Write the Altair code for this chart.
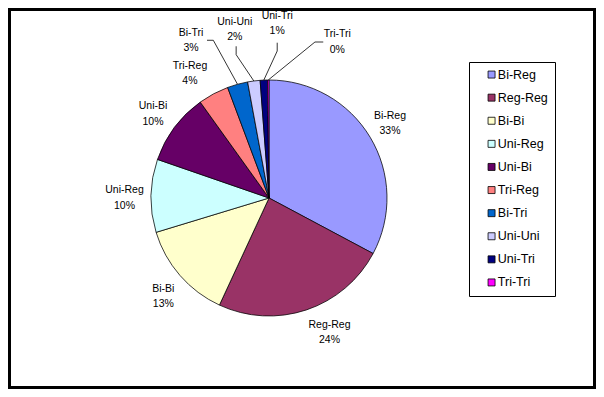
import math
import altair as alt
import pandas as pd

# ---- data ----
names = ["Bi-Reg", "Reg-Reg", "Bi-Bi", "Uni-Reg", "Uni-Bi",
         "Tri-Reg", "Bi-Tri", "Uni-Uni", "Uni-Tri", "Tri-Tri"]
values = [32.8, 24.1, 13.4, 10.0, 9.8, 4.2, 2.8, 1.7, 1.0, 0.2]
colors = ["#9999FF", "#993366", "#FFFFCC", "#CCFFFF", "#660066",
          "#FF8080", "#0066CC", "#CCCCFF", "#000080", "#FF00FF"]

# ---- layout ----
W, H = 588, 381
CX, CY, R = 261, 190, 118
FONT = "Liberation Sans"
LINE_H = 15.5
# label centre offsets from the slice's mid-angle point on the rim
label_offsets = [(19.8, -13.8), (23, 22.4), (-16.7, 20.8), (-26.5, 2.4),
                 (-21.4, -13.4), (-23.5, -20.6), (-46.5, -44), (-19.1, -51.3),
                 (13.4, -56.8), (69, -38)]
# leader line points relative to the label centre
leader_pts = {
    "Bi-Tri": [(16, 0), (22.3, 0)],
    "Uni-Uni": [(1.4, 16.6), (1.4, 25)],
    "Uni-Tri": [(0, 19.4), (0, 27.7)],
    "Tri-Tri": [(-14, 0), (-22.3, 0)],
}

total = sum(values)
rows, lead_rows = [], []
cum = 0.0
for i, (n, v) in enumerate(zip(names, values)):
    mid = (cum + v / 2) / total * 2 * math.pi
    cum += v
    ax = CX + R * math.sin(mid)
    ay = CY - R * math.cos(mid)
    dx, dy = label_offsets[i]
    lx, ly = ax + dx, ay + dy
    rows.append({"name": n, "value": v, "idx": i,
                 "label": f"{n}\n{round(v / total * 100)}%",
                 "lx": lx, "ty": ly - LINE_H / 2})
    if n in leader_pts:
        for k, (px, py) in enumerate(leader_pts[n]):
            lead_rows.append({"name": n, "k": k, "x": lx + px, "y": ly + py})
        lead_rows.append({"name": n, "k": 2, "x": ax, "y": ay})

df = pd.DataFrame(rows)
lead = pd.DataFrame(lead_rows)

pie = alt.Chart(df).mark_arc(radius=R, stroke="black", strokeWidth=0.75).encode(
    theta=alt.Theta("value:Q", stack=True),
    order=alt.Order("idx:Q"),
    color=alt.Color(
        "name:N",
        sort=names,
        scale=alt.Scale(domain=names, range=colors),
        legend=alt.Legend(
            orient="none", legendX=461, legendY=54, title=None,
            symbolType="square", symbolSize=49,
            symbolStrokeColor="black", symbolStrokeWidth=0.8,
            labelFont=FONT, labelFontSize=12.5, labelColor="black",
            strokeColor="black", fillColor="white", cornerRadius=0,
            padding=6.3, rowPadding=10.1, symbolOffset=10, labelOffset=0,
        ),
    ),
    x=alt.value(CX),
    y=alt.value(CY),
)

labels = alt.Chart(df).mark_text(
    font=FONT, fontSize=10.5, color="black", lineBreak="\n",
    lineHeight=LINE_H, align="center", baseline="middle",
).encode(
    x=alt.X("lx:Q", scale=None, axis=None),
    y=alt.Y("ty:Q", scale=None, axis=None),
    text="label:N",
)

leaders = alt.Chart(lead).mark_line(color="black", strokeWidth=0.8).encode(
    x=alt.X("x:Q", scale=None, axis=None),
    y=alt.Y("y:Q", scale=None, axis=None),
    detail="name:N",
    order="k:Q",
)

chart = (
    alt.layer(pie, leaders, labels)
    .properties(width=W, height=H, padding=0, autosize=alt.AutoSizeParams(type="none"),
                background="white")
    .configure_view(stroke="black", strokeWidth=6)
)

chart.save("out.html", embed_options={"renderer": "svg", "actions": False})
